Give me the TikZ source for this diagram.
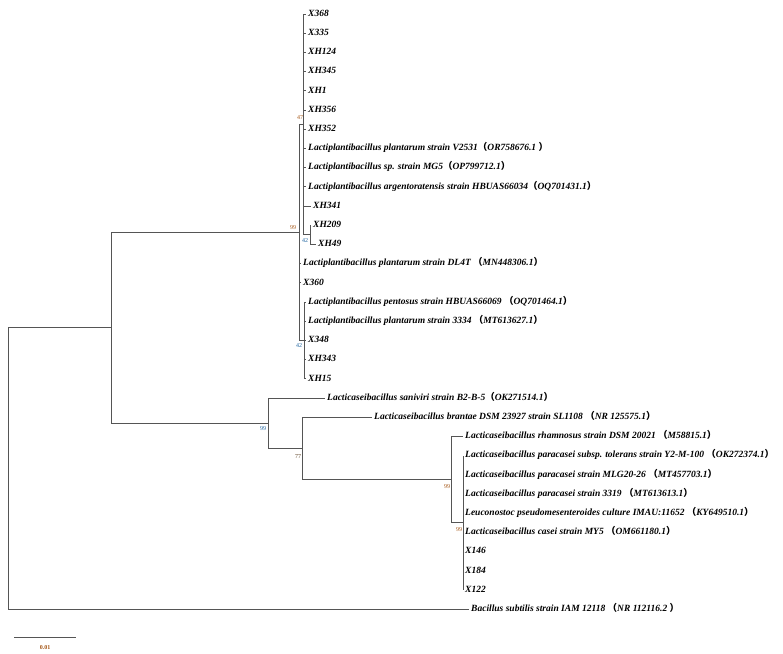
\documentclass[tikz,border=0pt]{standalone}
\usepackage{fontspec}
\setmainfont{Liberation Serif}
\newfontfamily\cjk{Noto Sans CJK SC}
\definecolor{brn}{RGB}{165,85,20}
\definecolor{blu}{RGB}{30,100,160}
\definecolor{dbr}{RGB}{90,60,30}
\definecolor{ln}{RGB}{85,85,85}
\newcommand{\accn}[1]{{\cjk （}#1{\cjk ）}}
\begin{document}
\begin{tikzpicture}[x=1pt,y=-1pt,
  leaf/.style={anchor=west, inner xsep=2pt, inner ysep=0pt, text height=6.5pt, text depth=2pt,
    font=\fontsize{9.5}{10}\selectfont\bfseries\itshape},
  bs/.style={inner sep=0pt, font=\fontsize{6}{6}\selectfont},
  br/.style={draw=ln, line width=1pt}]
\useasboundingbox[fill=white] (0,0) rectangle (783,653);
% internal nodes
\coordinate (n42a) at (310,234.8);
\coordinate (n47) at (303,124.4);
\coordinate (n42b) at (304,340.4);
\coordinate (ntop) at (299,232.4);
\coordinate (n99b) at (463,522.8);
\coordinate (n99a) at (451,479.6);
\coordinate (n77) at (302,448.4);
\coordinate (n99c) at (268,423.2);
\coordinate (nL) at (111,327.8);
\coordinate (root) at (8,468.5);
% leaves
\node[leaf] (l0) at (306,14) {X368};
\node[leaf] (l1) at (306,33.2) {X335};
\node[leaf] (l2) at (306,52.4) {XH124};
\node[leaf] (l3) at (306,71.6) {XH345};
\node[leaf] (l4) at (306,90.8) {XH1};
\node[leaf] (l5) at (306,110) {XH356};
\node[leaf] (l6) at (306,129.2) {XH352};
\node[leaf] (l7) at (306,148.4) {Lactiplantibacillus plantarum strain V2531\accn{OR758676.1 }};
\node[leaf] (l8) at (306,167.6) {Lactiplantibacillus sp. strain MG5\accn{OP799712.1}};
\node[leaf] (l9) at (306,186.8) {Lactiplantibacillus argentoratensis strain HBUAS66034\accn{OQ701431.1}};
\node[leaf] (l10) at (311,206) {XH341};
\node[leaf] (l11) at (311,225.2) {XH209};
\node[leaf] (l12) at (316,244.4) {XH49};
\node[leaf] (l13) at (301,263.6) {Lactiplantibacillus plantarum strain DL4T\ \accn{MN448306.1}};
\node[leaf] (l14) at (301,282.8) {X360};
\node[leaf] (l15) at (306,302) {Lactiplantibacillus pentosus strain HBUAS66069\ \accn{OQ701464.1}};
\node[leaf] (l16) at (306,321.2) {Lactiplantibacillus plantarum strain 3334\ \accn{MT613627.1}};
\node[leaf] (l17) at (306,340.4) {X348};
\node[leaf] (l18) at (306,359.6) {XH343};
\node[leaf] (l19) at (306,378.8) {XH15};
\node[leaf] (l20) at (325,398) {Lacticaseibacillus saniviri strain B2-B-5\accn{OK271514.1}};
\node[leaf] (l21) at (372,417.2) {Lacticaseibacillus brantae DSM 23927 strain SL1108\ \accn{NR 125575.1}};
\node[leaf] (l22) at (463,436.4) {Lacticaseibacillus rhamnosus strain DSM 20021\ \accn{M58815.1}};
\node[leaf] (l23) at (463,455.6) {Lacticaseibacillus paracasei subsp. tolerans strain Y2-M-100\ \accn{OK272374.1}};
\node[leaf] (l24) at (463,474.8) {Lacticaseibacillus paracasei strain MLG20-26\ \accn{MT457703.1}};
\node[leaf] (l25) at (463,494) {Lacticaseibacillus paracasei strain 3319\ \accn{MT613613.1}};
\node[leaf] (l26) at (463,513.2) {Leuconostoc pseudomesenteroides culture IMAU:11652\ \accn{KY649510.1}};
\node[leaf] (l27) at (463,532.4) {Lacticaseibacillus casei strain MY5\ \accn{OM661180.1}};
\node[leaf] (l28) at (463,551.6) {X146};
\node[leaf] (l29) at (463,570.8) {X184};
\node[leaf] (l30) at (463,590) {X122};
\node[leaf] (l31) at (469,609.2) {Bacillus subtilis strain IAM 12118\ \accn{NR 112116.2 }};
% branches
\foreach \i in {0,...,10} {\draw[br] (n47) |- (l\i.west);}
\draw[br] (n47) |- (n42a);
\draw[br] (n42a) |- (l11.west);
\draw[br] (n42a) |- (l12.west);
\draw[br] (ntop) |- (n47);
\draw[br] (ntop) |- (l13.west);
\draw[br] (ntop) |- (l14.west);
\draw[br] (ntop) |- (n42b);
\foreach \i in {15,...,19} {\draw[br] (n42b) |- (l\i.west);}
\foreach \i in {23,...,30} {\draw[br] (n99b) |- (l\i.west);}
\draw[br] (n99a) |- (l22.west);
\draw[br] (n99a) |- (n99b);
\draw[br] (n77) |- (l21.west);
\draw[br] (n77) |- (n99a);
\draw[br] (n99c) |- (l20.west);
\draw[br] (n99c) |- (n77);
\draw[br] (nL) |- (ntop);
\draw[br] (nL) |- (n99c);
\draw[br] (root) |- (nL);
\draw[br] (root) |- (l31.west);
% bootstrap values
\node[bs, text=brn] (b47) at (300,118) {47};
\node[bs, text=brn] (b99t) at (293,228) {99};
\node[bs, text=blu] (b42a) at (305,241) {42};
\node[bs, text=blu] (b42b) at (299,346) {42};
\node[bs, text=blu] (b99c) at (263,429) {99};
\node[bs, text=dbr] (b77) at (298,457) {77};
\node[bs, text=brn] (b99a) at (447,487) {99};
\node[bs, text=brn] (b99b) at (459,530) {99};
% scale bar
\coordinate (s1) at (14,637.7);
\coordinate (s2) at (76,637.7);
\draw[br] (s1) -- (s2);
\node[bs, text=brn, font=\fontsize{6}{6}\selectfont\bfseries] (sl) at (45,648) {0.01};
\end{tikzpicture}
\end{document}
